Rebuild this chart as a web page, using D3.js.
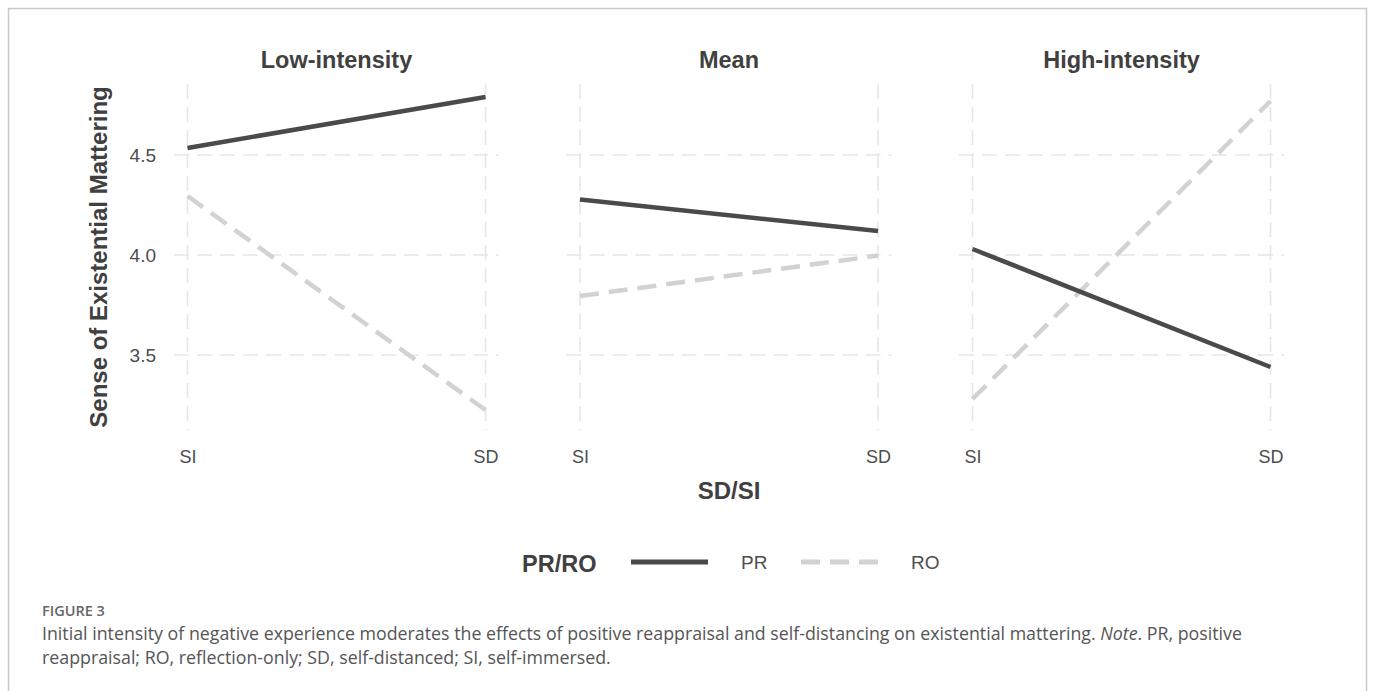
<!DOCTYPE html>
<html>
<head>
<meta charset="utf-8">
<script src="https://cdn.jsdelivr.net/npm/d3@7"></script>
<style>
  html, body { margin: 0; padding: 0; background: #fff; }
  svg { display: block; }
</style>
</head>
<body>
<svg id="chart" width="1375" height="691"></svg>
<script>
// ---- data ----
const panels = ["Low-intensity", "Mean", "High-intensity"];
const xCats = ["SI", "SD"];
const prValues = [[4.535, 4.79], [4.278, 4.12], [4.03, 3.44]];
const roValues = [[4.295, 3.225], [3.795, 3.997], [3.28, 4.77]];
const yTicks = [3.5, 4.0, 4.5];
const seriesNames = ["PR", "RO"];
const legendTitle = "PR/RO";
const xTitle = "SD/SI";
const yTitle = "Sense of Existential Mattering";
const figLabel = "FIGURE 3";

// ---- layout ----
const svg = d3.select("#chart");
const panelTop = 84, panelBottom = 430;
const panelW = 325, panelGap = 67.5, firstLeft = 174;

const sansBold = "'Liberation Sans', Arial, Helvetica, sans-serif";
const titleColor = "#404040";
const tickColor = "#4d4d4d";
const gridColor = "#e6e6e6";
const prColor = "#4a4a4a";
const roColor = "#d2d2d2";

// outer border
svg.append("rect")
  .attr("x", 8.5).attr("y", 8.5)
  .attr("width", 1358).attr("height", 720)
  .attr("fill", "none").attr("stroke", "#c8c8c8").attr("stroke-width", 1.5);

const y = d3.scaleLinear().domain([3.125, 4.855]).range([panelBottom, panelTop]);
const panelX = d3.scaleBand().domain(panels)
  .range([firstLeft, firstLeft + 3 * panelW + 2 * panelGap])
  .paddingInner(panelGap / (panelW + panelGap)).paddingOuter(0);

const series = [
  { name: seriesNames[0], values: prValues, color: prColor, dash: null },
  { name: seriesNames[1], values: roValues, color: roColor, dash: "19,10" }
];

panels.forEach((p, i) => {
  const left = panelX(p);
  const x = d3.scalePoint().domain(xCats).range([left, left + panelX.bandwidth()]).padding(0.0453);
  const g = svg.append("g");

  // horizontal grid
  g.selectAll(".hg").data(yTicks).join("line")
    .attr("x1", left).attr("x2", left + panelX.bandwidth())
    .attr("y1", d => y(d)).attr("y2", d => y(d))
    .attr("stroke", gridColor).attr("stroke-width", 1.6).attr("stroke-dasharray", "15,8");
  // vertical grid
  g.selectAll(".vg").data(xCats).join("line")
    .attr("x1", d => x(d)).attr("x2", d => x(d))
    .attr("y1", panelTop).attr("y2", panelBottom)
    .attr("stroke", gridColor).attr("stroke-width", 1.6).attr("stroke-dasharray", "15,8");

  // lines (RO first, PR on top)
  const line = d3.line().x((d, j) => x(xCats[j])).y(d => y(d));
  [series[1], series[0]].forEach(s => {
    g.append("path")
      .datum(s.values[i])
      .attr("d", line)
      .attr("fill", "none")
      .attr("stroke", s.color)
      .attr("stroke-width", 4.5)
      .attr("stroke-dasharray", s.dash);
  });

  // x axis
  const xa = svg.append("g").attr("transform", `translate(0,${panelBottom})`)
    .call(d3.axisBottom(x).tickSize(0).tickPadding(20));
  xa.select(".domain").remove();
  xa.selectAll("text").attr("font-family", sansBold).attr("font-size", 18).attr("fill", tickColor);

  // facet title
  svg.append("text")
    .attr("x", left + panelX.bandwidth() / 2).attr("y", 68)
    .attr("text-anchor", "middle")
    .attr("font-family", sansBold).attr("font-weight", "bold").attr("font-size", 23.5)
    .attr("fill", titleColor).text(p);

  if (i === 0) {
    const ya = svg.append("g").attr("transform", `translate(${left},0)`)
      .call(d3.axisLeft(y).tickValues(yTicks).tickFormat(d3.format(".1f")).tickSize(0).tickPadding(18));
    ya.select(".domain").remove();
    ya.selectAll("text").attr("font-family", sansBold).attr("font-size", 19).attr("fill", tickColor);
  }
});

// axis titles
svg.append("text")
  .attr("x", (firstLeft + firstLeft + 3 * panelW + 2 * panelGap) / 2).attr("y", 499)
  .attr("text-anchor", "middle")
  .attr("font-family", sansBold).attr("font-weight", "bold").attr("font-size", 24)
  .attr("fill", titleColor).text(xTitle);

svg.append("text")
  .attr("transform", `translate(107,${(panelTop + panelBottom) / 2}) rotate(-90)`)
  .attr("text-anchor", "middle")
  .attr("font-family", sansBold).attr("font-weight", "bold").attr("font-size", 24)
  .attr("fill", titleColor).text(yTitle);

// legend
const lg = svg.append("g");
lg.append("text").attr("x", 522).attr("y", 572)
  .attr("font-family", sansBold).attr("font-weight", "bold").attr("font-size", 23.5)
  .attr("fill", titleColor).text(legendTitle);
const legendItems = [
  { s: series[0], x0: 631, tx: 741 },
  { s: series[1], x0: 801, tx: 911 }
];
legendItems.forEach(it => {
  lg.append("line").attr("x1", it.x0).attr("x2", it.x0 + 77)
    .attr("y1", 562).attr("y2", 562)
    .attr("stroke", it.s.color).attr("stroke-width", 5)
    .attr("stroke-dasharray", it.s.dash);
  lg.append("text").attr("x", it.tx).attr("y", 569)
    .attr("font-family", sansBold).attr("font-size", 19)
    .attr("fill", tickColor).text(it.s.name);
});

// caption
const capFont = "'Open Sans', 'Noto Sans', sans-serif";
svg.append("text").attr("x", 42).attr("y", 616)
  .attr("font-family", capFont).attr("font-weight", 600).attr("font-size", 14.5)
  .attr("fill", "#666").text(figLabel);
const c1 = svg.append("text").attr("x", 42).attr("y", 640)
  .attr("font-family", capFont).attr("font-size", 17.8).attr("fill", "#555");
c1.append("tspan").text("Initial intensity of negative experience moderates the effects of positive reappraisal and self-distancing on existential mattering. ");
c1.append("tspan").attr("font-style", "italic").text("Note");
c1.append("tspan").text(". PR, positive");
svg.append("text").attr("x", 42).attr("y", 664)
  .attr("font-family", capFont).attr("font-size", 17.8).attr("fill", "#555")
  .text("reappraisal; RO, reflection-only; SD, self-distanced; SI, self-immersed.");
</script>
</body>
</html>
